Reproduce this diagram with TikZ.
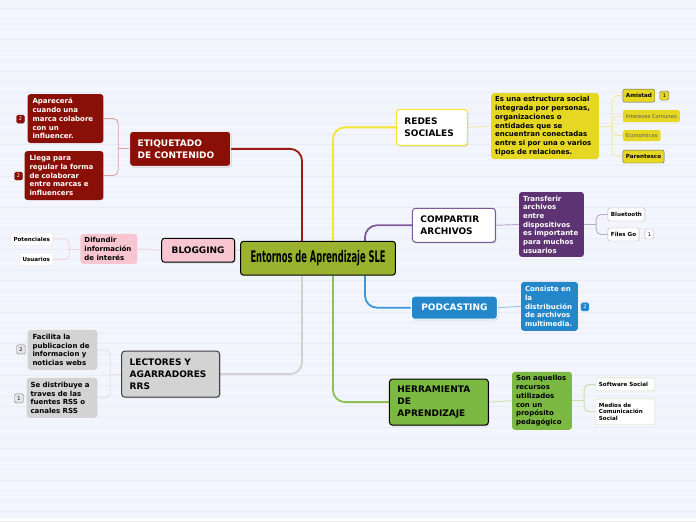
\documentclass[tikz,border=0pt]{standalone}
\usepackage{fontspec}
\setmainfont{DejaVu Sans}
\newfontfamily\titlefont[FakeStretch=0.52]{DejaVu Sans}
\usetikzlibrary{shadows, backgrounds}

\definecolor{paper}{HTML}{F3F5FD}
\definecolor{paperline}{HTML}{E9ECF6}
\definecolor{olive}{HTML}{9AB22E}
\definecolor{wine}{HTML}{8A0F06}
\definecolor{wineline}{HTML}{9B1B12}
\definecolor{winelight}{HTML}{D8A3A3}
\definecolor{rose}{HTML}{F8C6D1}
\definecolor{roseline}{HTML}{F6D3DC}
\definecolor{ash}{HTML}{D3D3D3}
\definecolor{ashline}{HTML}{D2D2D2}
\definecolor{ashlight}{HTML}{E2E2E4}
\definecolor{lemon}{HTML}{E6D822}
\definecolor{lemonline}{HTML}{F4E52E}
\definecolor{lemonlight}{HTML}{F4EAA6}
\definecolor{plum}{HTML}{5E3373}
\definecolor{plumline}{HTML}{7E5A96}
\definecolor{plumlight}{HTML}{BBA8CA}
\definecolor{sky}{HTML}{2387CA}
\definecolor{skyline}{HTML}{3A98D8}
\definecolor{skylight}{HTML}{92C5EA}
\definecolor{leaf}{HTML}{7CB942}
\definecolor{leafline}{HTML}{8EC153}
\definecolor{leaflight}{HTML}{C6E1A9}

\begin{document}
\begin{tikzpicture}[x=1pt, y=-1pt,
    topic/.style={draw, line width=1pt, rounded corners=3pt, align=left,
        inner xsep=8pt, inner ysep=2pt, font=\bfseries\fontsize{9}{11.8}\selectfont,
        drop shadow={shadow xshift=1pt, shadow yshift=-1.2pt, opacity=0.3}},
    desc/.style={rounded corners=3pt, align=left, inner xsep=4pt, inner ysep=2pt,
        font=\bfseries\fontsize{7}{8.7}\selectfont},
    tip/.style={rounded corners=2pt, align=left, inner xsep=3pt, inner ysep=1pt,
        font=\bfseries\fontsize{5.6}{6.4}\selectfont},
    badge/.style={draw, rounded corners=1.5pt, inner sep=0pt, minimum width=8pt,
        minimum height=8pt, font=\fontsize{5}{5}\selectfont},
    mainline/.style={line width=1.8pt, rounded corners=12pt},
    subline/.style={line width=0.9pt, rounded corners=5pt}]

    % Nodo central
    \node[draw=black, fill=olive, line width=1pt, rounded corners=3pt, anchor=north west,
        minimum width=155pt, minimum height=34pt, font=\titlefont\bfseries\fontsize{16}{16}\selectfont]
        (center) at (240,241) {Entornos de Aprendizaje SLE};

    % Redes sociales
    \node[topic, draw=lemonline, fill=white, anchor=north west, text width=55pt, minimum height=36pt]
        (redes) at (396,109) {REDES\\SOCIALES};
    \node[desc, fill=lemon, anchor=north west, text width=100pt, minimum height=66pt]
        (redesd) at (491,93) {Es una estructura social\\integrada por personas,\\organizaciones o\\entidades que se\\encuentran conectadas\\entre si por una o varios\\tipos de relaciones.};
    \node[tip, draw=gray!80!black, fill=lemon, anchor=north west, minimum height=13pt] (amistad) at (623,89) {Amistad};
    \node[badge, draw=gray, fill=lemon, anchor=north west, minimum width=9pt, minimum height=9pt] (amistadb) at (660,91) {1};
    \node[tip, fill=lemon, text=gray!70!black, font=\fontsize{5.3}{6.4}\selectfont, anchor=north west, minimum height=12pt] (inter) at (623,110) {Intereses Comunes};
    \node[tip, fill=lemon, text=gray!70!black, font=\fontsize{5.3}{6.4}\selectfont, anchor=north west, minimum height=11pt] (econ) at (623,130) {Economicas};
    \node[tip, draw=gray!80!black, fill=lemon, anchor=north west, minimum height=13pt] (paren) at (623,150) {Parentesco};

    % Compartir archivos
    \node[topic, draw=plumline, fill=white, anchor=north west, text width=67pt, minimum height=34pt]
        (compartir) at (412,208) {COMPARTIR\\ARCHIVOS};
    \node[desc, fill=plum, text=white, anchor=north west, text width=57pt, minimum height=65pt]
        (compd) at (519,192) {Transferir\\archivos\\entre\\dispositivos\\es importante\\para muchos\\usuarios};
    \node[tip, draw=plumlight, fill=white, anchor=north west, minimum height=13pt] (bluetooth) at (608,208) {Bluetooth};
    \node[tip, draw=plumlight, fill=white, anchor=north west, minimum height=13pt] (filesgo) at (608,228) {Files Go};
    \node[badge, draw=plumlight, fill=white, anchor=north west, minimum width=9pt, minimum height=9pt] (filesgob) at (645,230) {1};

    % Podcasting
    \node[topic, draw=white, fill=sky, text=white, align=center, anchor=north west, text width=70pt, minimum height=23pt]
        (podcast) at (411,296) {PODCASTING};
    \node[desc, fill=sky, text=white, anchor=north west, text width=49pt, minimum height=49pt]
        (podd) at (521,282) {Consiste en\\la\\distribución\\de archivos\\multimedia.};
    \node[badge, draw=sky, fill=sky, text=white, anchor=north west] (poddb) at (581,303) {2};

    % Herramienta de aprendizaje
    \node[topic, draw=black, fill=leaf, anchor=north west, text width=83pt, minimum height=46pt]
        (herram) at (389,379) {HERRAMIENTA\\DE\\APRENDIZAJE};
    \node[desc, fill=leaf, anchor=north west, text width=52pt, minimum height=58pt]
        (herrd) at (512,372) {Son aquellos\\recursos\\utilizados\\con un\\propósito\\pedagógico};
    \node[tip, draw=leaflight, fill=white, anchor=north west, text width=53pt, minimum height=13pt] (software) at (596,378) {Software Social};
    \node[tip, draw=leaflight, fill=white, anchor=north west, text width=53pt, minimum height=26pt] (medios) at (596,399) {Medios de\\Comunicación\\Social};

    % Etiquetado de contenido
    \node[topic, draw=white!85!gray, fill=wine, text=white, anchor=north west, text width=85pt, minimum height=35pt]
        (etiq) at (129,131) {ETIQUETADO\\DE CONTENIDO};
    \node[desc, fill=wine, text=white, inner xsep=5pt, anchor=north west, text width=66pt, minimum height=49pt]
        (apar) at (27,94) {Aparecerá\\cuando una\\marca colabore\\con un\\influencer.};
    \node[badge, draw=wine, fill=wine, text=white, anchor=north west] (aparb) at (16,115) {2};
    \node[desc, fill=wine, text=white, inner xsep=5pt, anchor=north west, text width=69pt, minimum height=49pt]
        (llega) at (24,151) {Llega para\\regular la forma\\de colaborar\\entre marcas e\\influencers};
    \node[badge, draw=wine, fill=wine, text=white, anchor=north west] (llegab) at (14,172) {2};

    % Blogging
    \node[topic, draw=black, fill=rose, align=center, anchor=north west, text width=57pt, minimum height=24pt]
        (blog) at (161,238) {BLOGGING};
    \node[desc, fill=rose, anchor=north west, text width=49pt, minimum height=30pt]
        (difu) at (80,234) {Difundir\\información\\de interés};
    \node[tip, draw=roseline, fill=white, anchor=north west, minimum height=12pt] (poten) at (10,233) {Potenciales};
    \node[tip, draw=roseline, fill=white, anchor=north west, minimum height=13pt] (usuar) at (19,253) {Usuarios};

    % Lectores y agarradores
    \node[topic, draw=black!75, fill=ash, anchor=north west, text width=82pt, minimum height=46pt]
        (lect) at (121,351) {LECTORES Y\\AGARRADORES\\RRS};
    \node[desc, fill=ash, inner xsep=5pt, anchor=north west, text width=60pt, minimum height=40pt]
        (faci) at (27,330) {Facilita la\\publicacion de\\informacion y\\noticias webs};
    \node[badge, draw=gray, fill=ash!60, anchor=north west, minimum width=9pt, minimum height=9pt] (facib) at (16,345) {2};
    \node[desc, fill=ash, anchor=north west, text width=63pt, minimum height=40pt]
        (sedi) at (26,378) {Se distribuye a\\traves de las\\fuentes RSS o\\canales RSS};
    \node[badge, draw=gray, fill=ash!60, anchor=north west, minimum width=9pt, minimum height=9pt] (sedib) at (14,394) {1};

    \begin{pgfonlayer}{background}
        % Fondo rayado
        \fill[paper] (0,0) rectangle (696,520);
        \foreach \i in {0,...,49}
            \draw[paperline, line width=0.7pt] (0,{8.3+10.49*\i}) -- (696,{8.3+10.49*\i});

        % Ramas principales
        \draw[mainline, wineline] ([xshift=62pt]center.north west) |- (etiq.east);
        \draw[mainline, ashline] ([xshift=62pt]center.south west) |- (lect.east);
        \draw[line width=1.2pt, roseline] (blog.east) -- (blog.east -| center.west);
        \draw[mainline, lemonline] ([xshift=93pt]center.north west) |- (redes.west);
        \draw[mainline, leafline] ([xshift=93pt]center.south west) |- (herram.west);
        \draw[mainline, plumline] ([xshift=125pt]center.north west) |- (compartir.west);
        \draw[mainline, skyline] ([xshift=125pt]center.south west) |- (podcast.west);

        % Ramas secundarias
        \draw[subline, lemonlight] (redes.east) -- (redesd.west);
        \draw[subline, lemonlight] (redesd.east) -- ++(13,0) coordinate (redj);
        \foreach \n in {amistad, inter, econ, paren}
            \draw[subline, lemonlight] (redj) |- (\n.west);

        \draw[subline, plumlight] (compartir.east) -- (compd.west);
        \draw[subline, plumlight] (compd.east) -- ++(12,0) coordinate (compj);
        \foreach \n in {bluetooth, filesgo}
            \draw[subline, plumlight] (compj) |- (\n.west);

        \draw[subline, skylight] (podcast.east) -- (podd.west);

        \draw[subline, leaflight] (herram.east) -- (herrd.west);
        \draw[subline, leaflight] (herrd.east) -- ++(12,0) coordinate (herrj);
        \foreach \n in {software, medios}
            \draw[subline, leaflight] (herrj) |- (\n.west);

        \draw[subline, winelight] (etiq.west) -- ++(-11,0) coordinate (etiqj);
        \foreach \n in {apar, llega}
            \draw[subline, winelight] (etiqj) |- (\n.east);

        \draw[subline, roseline] (blog.west) -- (difu.east);
        \draw[subline, roseline] (difu.west) -- ++(-11,0) coordinate (difuj);
        \foreach \n in {poten, usuar}
            \draw[subline, roseline] (difuj) |- (\n.east);

        \draw[subline, ashlight] (lect.west) -- ++(-11,0) coordinate (lectj);
        \foreach \n in {faci, sedi}
            \draw[subline, ashlight] (lectj) |- (\n.east);
    \end{pgfonlayer}
\end{tikzpicture}
\end{document}
